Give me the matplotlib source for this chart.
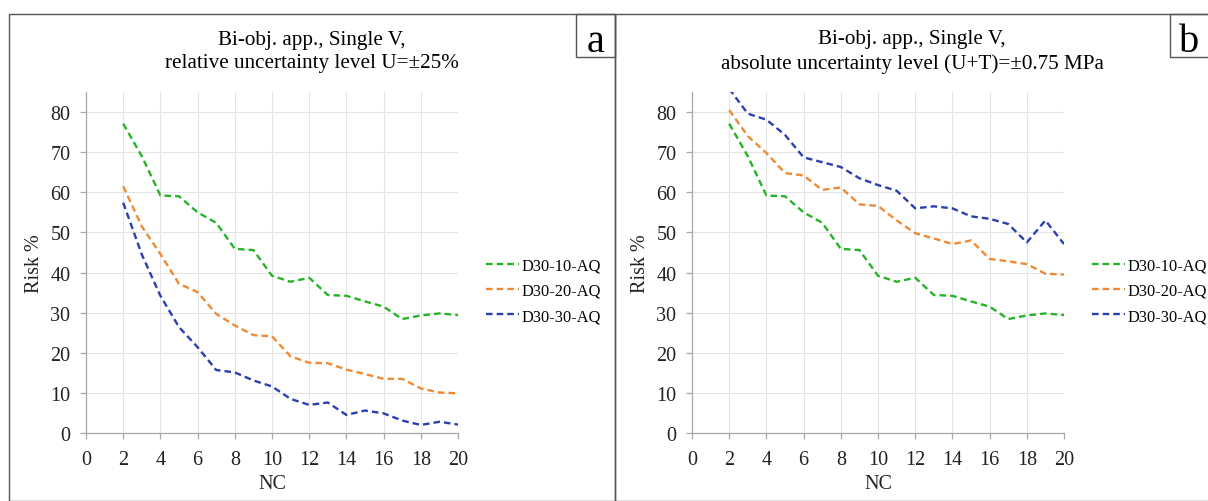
import matplotlib.pyplot as plt
from matplotlib.patches import Rectangle
import numpy as np

plt.rcParams['font.family'] = 'serif'
plt.rcParams['font.serif'] = ['Liberation Serif', 'DejaVu Serif']

"""
Risk % vs NC, two panels (relative / absolute uncertainty)
values read off the original figure
"""
nc = list(range(2, 21))
legend_names = ['D30-10-AQ', 'D30-20-AQ', 'D30-30-AQ']
colors = ['#27b327', '#ee8a35', '#2b3fae']

# panel a: relative uncertainty level U=+-25%
risk_a_10 = [77.1, 69.0, 59.2, 59.0, 55.0, 52.4, 45.9, 45.6, 39.2, 37.7,
             38.7, 34.4, 34.2, 32.8, 31.5, 28.4, 29.3, 29.8, 29.4]
risk_a_20 = [61.5, 51.5, 44.6, 37.2, 35.1, 29.7, 26.8, 24.4, 24.1, 19.1,
             17.5, 17.4, 15.8, 14.7, 13.5, 13.5, 11.1, 10.1, 9.9]
risk_a_30 = [57.4, 44.5, 34.2, 26.4, 21.4, 15.7, 15.1, 13.1, 11.6, 8.5,
             7.0, 7.6, 4.5, 5.6, 4.9, 3.1, 2.0, 2.8, 2.1]

# panel b: absolute uncertainty level (U+T)=+-0.75 MPa
risk_b_10 = risk_a_10
risk_b_20 = [80.5, 74.0, 69.8, 64.8, 64.2, 60.6, 61.2, 57.0, 56.6, 53.0,
             49.8, 48.5, 47.1, 48.0, 43.4, 42.8, 42.1, 39.7, 39.5]
risk_b_30 = [85.8, 79.6, 78.1, 74.3, 68.7, 67.5, 66.3, 63.5, 61.8, 60.4,
             56.0, 56.5, 56.0, 54.0, 53.4, 52.1, 47.5, 53.0, 47.1]

titles = ['Bi-obj. app., Single V,\nrelative uncertainty level U=\u00b125%',
          'Bi-obj. app., Single V,\nabsolute uncertainty level (U+T)=\u00b10.75 MPa']
panel_letters = ['a', 'b']

W, H = 1208, 502
fs_tick = 14.5
fs_leg = 11.8


def px(x, y, w, h):
    # pixel box (from top-left) -> figure fraction
    return [x / W, 1 - (y + h) / H, w / W, h / H]


def panel(fig, x0, x1, series, title, letter):
    # outer frame of the panel
    fig.add_artist(Rectangle((x0 / W, 0), (x1 - x0) / W, 1 - 15 / H,
                             transform=fig.transFigure, fill=False,
                             ec='#555555', lw=1.0))
    # letter box, top right corner
    fig.add_artist(Rectangle(((x1 - 39) / W, 1 - 58 / H), 39 / W, 43 / H,
                             transform=fig.transFigure, fill=False,
                             ec='#555555', lw=1.0))
    fig.text((x1 - 19.5) / W, 1 - 52 / H, letter, fontsize=29,
             ha='center', va='baseline')
    fig.text((x0 + x1) / 2 / W, 1 - 52 / H, title, fontsize=15.2,
             ha='center', va='center', linespacing=1.3)

    ax = fig.add_axes(px(x0 + 77, 93, 372, 341))
    for vals, c, name in zip(series, colors, legend_names):
        ax.plot(nc, vals, color=c, lw=1.7, linestyle=(0, (2.8, 1.7)),
                label=name)

    ax.set_xlim(0, 20)
    ax.set_ylim(0, 85)
    ax.set_xticks(np.arange(0, 21, 2))
    ax.set_yticks(np.arange(0, 81, 10))
    ax.grid(True, color='#e4e4e4', lw=0.8)
    ax.set_axisbelow(True)
    for s in ['top', 'right']:
        ax.spines[s].set_visible(False)
    for s in ['left', 'bottom']:
        ax.spines[s].set_color('#a8a8a8')
        ax.spines[s].set_linewidth(0.9)
    ax.tick_params(colors='#a8a8a8', labelcolor='#222222', labelsize=fs_tick,
                   length=4.3, width=0.9)
    ax.tick_params(axis='x', pad=8)
    ax.tick_params(axis='y', pad=7)
    ax.set_xlabel('NC', fontsize=fs_tick, color='#222222')
    ax.set_ylabel('Risk %', fontsize=fs_tick, color='#222222')
    ax.xaxis.set_label_coords(0.5, -0.12)
    ax.yaxis.set_label_coords(-0.112, 0.5)

    ax.legend(loc='center left', bbox_to_anchor=((x0 + 477) / W, 1 - 292 / H),
              bbox_transform=fig.transFigure, frameon=False, fontsize=fs_leg,
              handlelength=2.0, handletextpad=0.15, labelspacing=0.55,
              borderpad=0, borderaxespad=0)
    return ax


def main():
    fig = plt.figure(figsize=(W / 100, H / 100), dpi=100)
    panel(fig, 9, 615, [risk_a_10, risk_a_20, risk_a_30], titles[0], panel_letters[0])
    panel(fig, 615, 1209, [risk_b_10, risk_b_20, risk_b_30], titles[1], panel_letters[1])
    fig.savefig('out.png', dpi=100)


if __name__ == "__main__":
    main()
